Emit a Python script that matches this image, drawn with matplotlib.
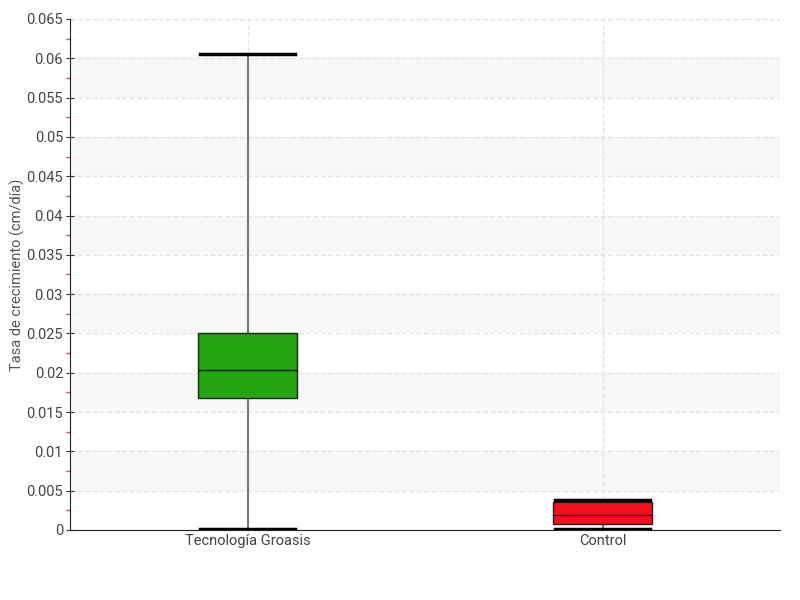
import matplotlib.pyplot as plt
import numpy as np

categories = ["Tecnología Groasis", "Control"]
q1 = [0.0168, 0.00076]
median = [0.0204, 0.0019]
q3 = [0.0251, 0.00356]
whisker_low = [0.0001, 0.0001]
whisker_high = [0.0605, 0.0038]
box_colors = ["#22a50e", "#f5101f"]

plt.rcParams['font.family'] = ['Roboto', 'DejaVu Sans']

fig = plt.figure(figsize=(8, 6), dpi=100)
ax = fig.add_axes([0.0875, 0.1167, 0.8875, 0.8517])

# alternating bands
for lo in np.arange(0.005, 0.065, 0.01):
    ax.axhspan(lo, lo + 0.005, color="#f7f7f7", zorder=0, lw=0)

stats = []
for i, c in enumerate(categories):
    stats.append(dict(label=c, q1=q1[i], med=median[i], q3=q3[i],
                      whislo=whisker_low[i], whishi=whisker_high[i], fliers=[]))

pos = np.arange(len(categories)) + 0.5
bp = ax.bxp(stats, positions=pos, widths=0.28, patch_artist=True,
            boxprops=dict(edgecolor="#222222", linewidth=1),
            medianprops=dict(color="#111111", linewidth=1),
            whiskerprops=dict(color="#777777", linewidth=1.5),
            capprops=dict(color="black", linewidth=2.5), capwidths=0.27)
for patch, col in zip(bp["boxes"], box_colors):
    patch.set_facecolor(col)
    patch.set_zorder(3)
for m in bp["medians"]:
    m.set_zorder(4)
for c in bp["caps"]:
    c.set_zorder(4)

ax.set_xlim(0, 2)
ax.set_ylim(0, 0.065)
ax.set_yticks(np.arange(0, 0.0651, 0.005))
ax.set_yticklabels(["0", "0.005", "0.01", "0.015", "0.02", "0.025", "0.03", "0.035",
                    "0.04", "0.045", "0.05", "0.055", "0.06", "0.065"])
ax.set_yticks(np.arange(0.0025, 0.065, 0.005), minor=True)
ax.tick_params(axis="y", which="major", direction="inout", length=6, color="#333333",
               labelsize=10.5, labelcolor="#444444", pad=2)
ax.tick_params(axis="y", which="minor", direction="out", length=3, width=1, color="#ff3333")
ax.tick_params(axis="x", length=0, labelsize=10.5, labelcolor="#444444", pad=3)
ax.set_xticks(pos)
ax.set_xticklabels(categories)

ax.grid(axis="y", which="major", linestyle="--", color="#e4e4e4", linewidth=1, zorder=1)
ax.grid(axis="x", linestyle="--", color="#e4e4e4", linewidth=1, zorder=1)
ax.set_axisbelow(True)
ax.axhline(0.065, linestyle="--", color="#e4e4e4", linewidth=1, zorder=1)

ax.spines["top"].set_visible(False)
ax.spines["right"].set_visible(False)
ax.spines["left"].set_color("#222222")
ax.spines["bottom"].set_color("#222222")
ax.set_ylabel("Tasa de crecimiento (cm/día)", fontsize=10.5, color="#555555")
ax.yaxis.set_label_coords(-0.063, 0.5)

fig.savefig("out.png", dpi=100)
